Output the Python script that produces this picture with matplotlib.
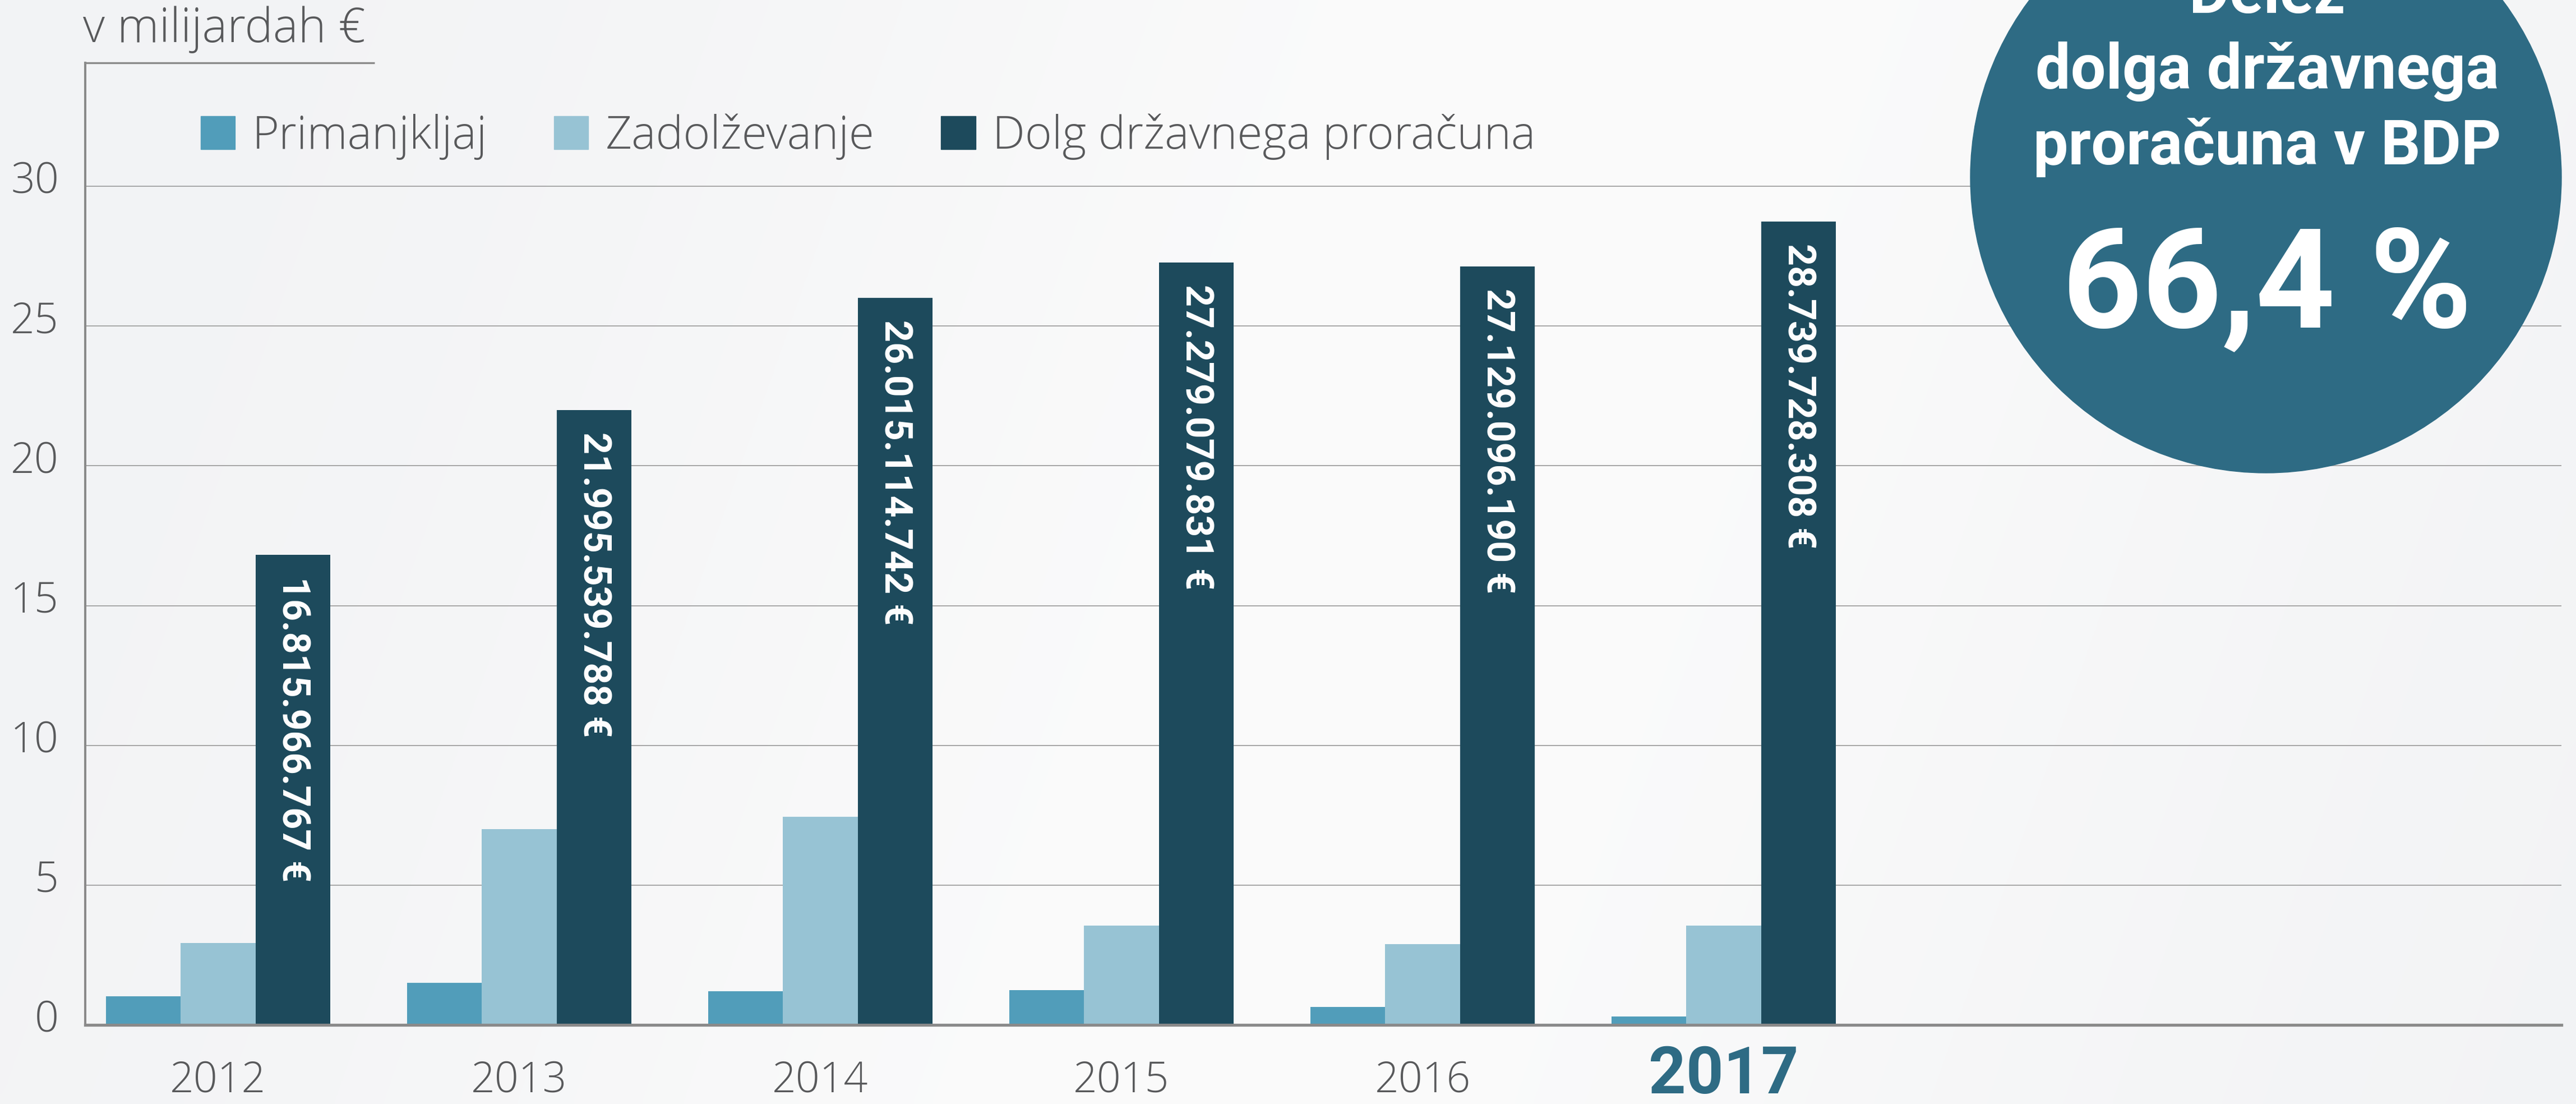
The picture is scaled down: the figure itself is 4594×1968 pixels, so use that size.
import numpy as np
import matplotlib
matplotlib.use("Agg")
import matplotlib.pyplot as plt
import matplotlib.transforms as mtransforms
from matplotlib.patches import Patch, Circle

# ---------------- data ----------------
years = ["2012", "2013", "2014", "2015", "2016", "2017"]
primanjkljaj = [1.03, 1.51, 1.20, 1.25, 0.64, 0.30]          # bn €
zadolzevanje = [2.94, 7.00, 7.44, 3.56, 2.90, 3.56]          # bn €
dolg_eur = [16815966767, 21995539788, 26015114742,
            27279079831, 27129096190, 28739728308]           # €
series_names = ["Primanjkljaj", "Zadolževanje", "Dolg državnega proračuna"]
y_ticks = [0, 5, 10, 15, 20, 25, 30]
unit_label = "v milijardah €"
circle_lines = ["Delež", "dolga državnega", "proračuna v BDP"]
circle_value = "66,4 %"

dolg = [v / 1e9 for v in dolg_eur]

# ---------------- style ----------------
C_PRIM = "#519dba"
C_ZAD = "#97c3d4"
C_DOLG = "#1d4a5c"
C_CIRC = "#2e6b84"
C_TEXT = "#58595b"
C_AXIS = "#8a8a8a"
C_GRID = "#a0a0a0"
LIGHT = ["Open Sans", "Lato", "DejaVu Sans"]
BOLD_NARROW = ["Roboto", "DejaVu Sans"]

W, H = 4594, 1968
DPI = 100
fig = plt.figure(figsize=(W / DPI, H / DPI), dpi=DPI)

# background gradient
bg = fig.add_axes([0, 0, 1, 1], zorder=-10)
xx, yy = np.meshgrid(np.linspace(0, 1, 400), np.linspace(0, 1, 200))
t = np.exp(-((xx - 0.55 + 0.15 * (yy - 0.5)) / 0.33) ** 2)
edge = np.array([242, 243, 245]) / 255
center = np.array([251, 251, 251]) / 255
img = edge[None, None, :] * (1 - t[..., None]) + center[None, None, :] * t[..., None]
bg.imshow(img, aspect="auto", extent=[0, 1, 0, 1], interpolation="bicubic")
bg.set_axis_off()

# main axes
ax_left, ax_right = 152, 4568
ax_top, ax_bottom = 112, 1827
ax = fig.add_axes([ax_left / W, 1 - ax_bottom / H,
                   (ax_right - ax_left) / W, (ax_bottom - ax_top) / H])
ax.set_facecolor("none")

x = np.arange(len(years))
bw = 0.248
b1 = ax.bar(x - bw, primanjkljaj, bw, color=C_PRIM, label=series_names[0], zorder=3)
b2 = ax.bar(x, zadolzevanje, bw, color=C_ZAD, label=series_names[1], zorder=3)
b3 = ax.bar(x + bw, dolg, bw, color=C_DOLG, label=series_names[2], zorder=3)

ax.set_xlim(-0.4413, 7.782)
ax.set_ylim(0, 34.42)

for s in ["top", "right"]:
    ax.spines[s].set_visible(False)
ax.spines["left"].set_color(C_AXIS)
ax.spines["left"].set_linewidth(2.9)
ax.spines["bottom"].set_color(C_AXIS)
ax.spines["bottom"].set_linewidth(3.8)
ax.spines["bottom"].set_zorder(4)

# partial top line
ax.plot([0, (668 - ax_left) / (ax_right - ax_left)], [1, 1], transform=ax.transAxes,
        color=C_AXIS, lw=2.4, clip_on=False, solid_capstyle="butt")

ax.set_yticks(y_ticks)
ax.yaxis.grid(True, color=C_GRID, lw=1.3, zorder=0)
ax.set_axisbelow(True)
ax.tick_params(axis="y", length=0, pad=34, labelsize=54, labelcolor=C_TEXT)
for lbl in ax.get_yticklabels():
    lbl.set_fontfamily(LIGHT)
    lbl.set_fontweight("light")
    lbl.set_transform(lbl.get_transform() +
                      mtransforms.ScaledTranslation(0, 17 / DPI, fig.dpi_scale_trans))

ax.set_xticks(x)
ax.set_xticklabels(years)
ax.tick_params(axis="x", length=0, pad=72, labelsize=54, labelcolor=C_TEXT)
for i, lbl in enumerate(ax.get_xticklabels()):
    lbl.set_va("center")
    lbl.set_fontfamily(LIGHT)
    lbl.set_fontweight("light")
    if i == len(years) - 1:
        lbl.set_fontsize(84)
        lbl.set_fontweight("bold")
        lbl.set_fontfamily(BOLD_NARROW)
        lbl.set_color(C_CIRC)
        lbl.set_transform(lbl.get_transform() +
                          mtransforms.ScaledTranslation(0, 10 / DPI, fig.dpi_scale_trans))

# value labels inside debt bars
for rect, v in zip(b3.patches, dolg_eur):
    txt = f"{v:,}".replace(",", ".") + " €"
    ax.annotate(txt, (rect.get_x() + rect.get_width() / 2, rect.get_height()),
                xytext=(0, -28), textcoords="offset points",
                rotation=-90, ha="center", va="top", color="white",
                fontsize=49, fontweight="bold", family=BOLD_NARROW, zorder=5)

# legend
leg = ax.legend(handles=[Patch(color=C_PRIM), Patch(color=C_ZAD), Patch(color=C_DOLG)],
                labels=series_names, ncol=3, frameon=False,
                loc="center left", bbox_to_anchor=(358 / W, 1 - 244 / H),
                bbox_transform=fig.transFigure, borderpad=0, borderaxespad=0,
                prop={"family": LIGHT, "weight": "light", "size": 59},
                handlelength=0.75, handleheight=0.74, handletextpad=0.37,
                columnspacing=1.45, labelcolor=C_TEXT)

# unit label
fig.text(148 / W, 1 - 75 / H, unit_label, ha="left", va="baseline",
         fontsize=61, color=C_TEXT, family=LIGHT, fontweight="light")

# overlay circle
ov = fig.add_axes([0, 0, 1, 1], zorder=10)
ov.set_xlim(0, W)
ov.set_ylim(H, 0)
ov.set_axis_off()
ov.patch.set_alpha(0)
ov.add_patch(Circle((4041, 316), 527, color=C_CIRC, zorder=1))
cx = 4043
for i, line in enumerate(circle_lines):
    ov.text(cx, 23 + 135 * i, line, ha="center", va="baseline", color="white",
            fontsize=80, fontweight="bold", family=BOLD_NARROW, zorder=2)
ov.text(cx, 583, circle_value, ha="center", va="baseline", color="white",
        fontsize=178, fontweight="bold", family=BOLD_NARROW, zorder=2)

fig.savefig("out.png", dpi=DPI)
